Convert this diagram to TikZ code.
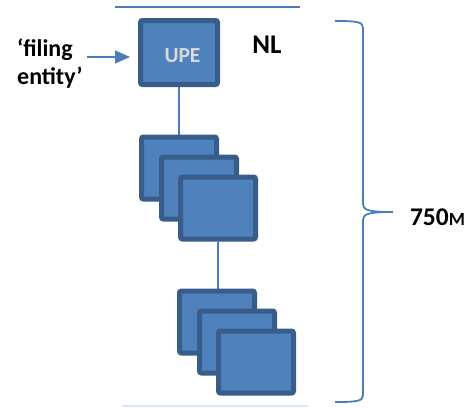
\documentclass[tikz,border=0pt]{standalone}
\usepackage{fontspec}
\setmainfont{Carlito}
\usetikzlibrary{arrows.meta}
\definecolor{boxfill}{HTML}{4F81BD}
\definecolor{boxedge}{HTML}{385D8A}
\definecolor{linkblue}{HTML}{4A7EBB}
\definecolor{paleline}{HTML}{DCE6F2}
\definecolor{upetext}{HTML}{D9D9D9}
\pgfdeclarelayer{bg}
\pgfsetlayers{bg,main}
\begin{document}
\begin{tikzpicture}[x=1pt,y=-1pt,
  entity/.style={draw=boxedge, fill=boxfill, line width=5pt, rounded corners=2pt,
    minimum width=75pt, minimum height=62pt, inner sep=0pt},
  link/.style={draw=linkblue, line width=1.5pt},
  lbl/.style={font=\bfseries\fontsize{24}{28}\selectfont, inner sep=0pt}]
\useasboundingbox (0,0) rectangle (476,407);

% rules at top and bottom
\coordinate (topL) at (115,7);
\coordinate (topR) at (300,7);
\coordinate (botL) at (122,406);
\coordinate (botR) at (308,406);
\draw[link] (topL) -- (topR);
\draw[draw=paleline, line width=1.5pt] (botL) -- (botR);

% parent entity
\node[entity, minimum width=77pt, minimum height=64pt] (upe) at (179,52.5) {};
\node[font=\bfseries\fontsize{21.5}{21.5}\selectfont, text=upetext, inner sep=0pt] (upelbl) at (182.5,56) {UPE};
\node[lbl, font=\bfseries\fontsize{27}{27}\selectfont] (nl) at (267,44.5) {NL};

% first stack
\node[entity] (s1a) at (179,168) {};
\node[entity] (s1b) at (199,188) {};
\node[entity] (s1c) at (218,208) {};

% second stack
\node[entity] (s2a) at (217,322) {};
\node[entity] (s2b) at (237,342) {};
\node[entity] (s2c) at (256,362) {};

% connectors behind the boxes
\begin{pgfonlayer}{bg}
\draw[link] (upe.south) -- (upe.south |- s1a.north);
\draw[link] (s1c.south) -- (s1c.south |- s2a.north);
\end{pgfonlayer}

% filing entity label and arrow
\node[lbl, align=left, anchor=west] (filer) at (17,64) {‘filing\\entity’};
\coordinate (arrstart) at (87,57);
\draw[link, -{Triangle[length=15pt,width=13pt]}, shorten >=8pt] (arrstart) -- (arrstart -| upe.west);

% brace spanning the group
\coordinate (brTop) at (335,21);
\coordinate (brTip) at (393,212);
\coordinate (brBot) at (335,402);
\draw[linkblue, line width=1.8pt]
  (brTop) .. controls (358,21) and (363,22) .. (363,28) -- (363,204)
  .. controls (363,210) and (368,212) .. (brTip)
  .. controls (368,212) and (363,214) .. (363,220) -- (363,395)
  .. controls (363,401) and (358,402) .. (brBot);
\node[lbl, font=\bfseries\fontsize{25.5}{25.5}\selectfont] (size) at (437.5,217) {750{\fontsize{18.5}{18.5}\selectfont M}};
\end{tikzpicture}
\end{document}
